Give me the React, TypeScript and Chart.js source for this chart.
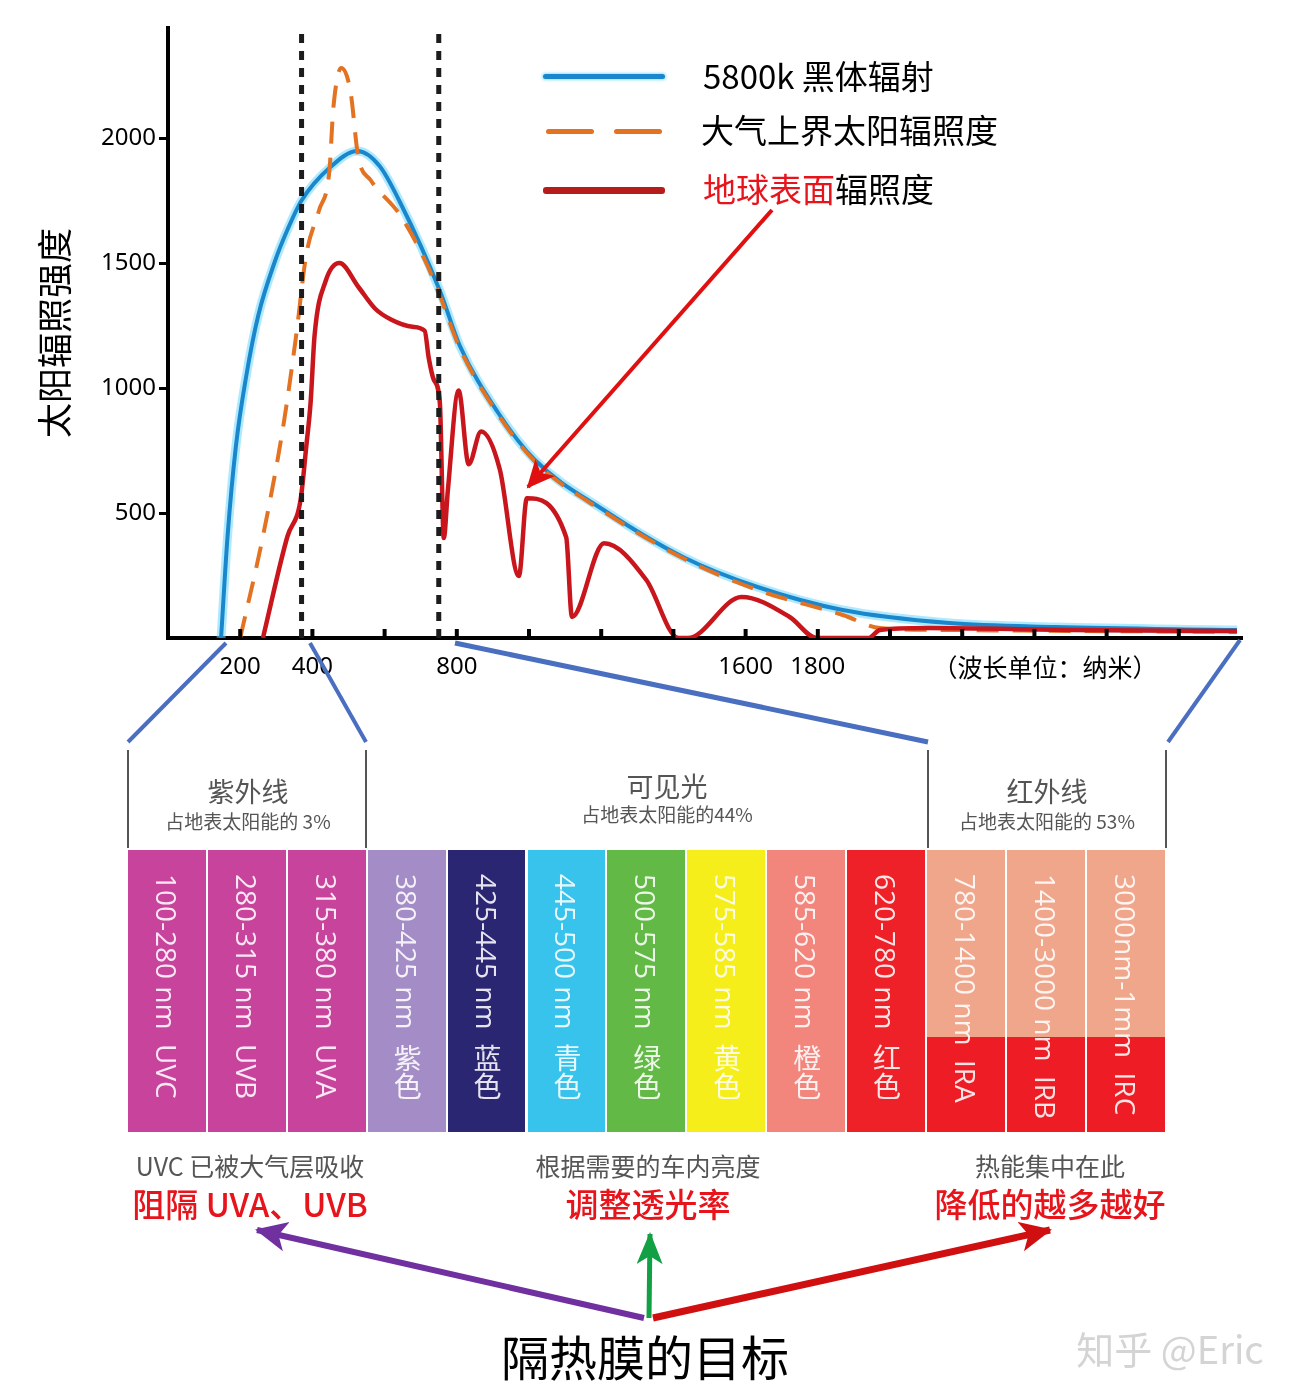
import React, { useEffect, useRef } from 'react';
import { Chart, registerables } from 'chart.js';

Chart.register(...registerables);

// ---------- chart data ----------
const blackbodyWavelengths = [147, 165, 188, 217, 250, 297, 330, 370, 447, 525, 586, 642, 753, 808, 914, 1017, 1208, 1428, 1633, 1869, 2164, 2458, 2961];
const blackbodyValues = [0, 407, 766, 1050, 1290, 1510, 1630, 1750, 1880, 1948, 1888, 1745, 1389, 1170, 902, 711, 511, 323, 204, 112, 60, 44, 32];

const extraterrestrialWavelengths = [200, 263, 320, 355, 383, 418, 447, 458, 480, 505, 527, 561, 643, 711, 753, 808, 914, 1017, 1208, 1428, 1633, 1869, 1972, 2164, 2961];
const extraterrestrialValues = [0, 407, 854, 1210, 1533, 1709, 1868, 2120, 2280, 2190, 1924, 1832, 1692, 1513, 1370, 1160, 895, 705, 505, 318, 192, 92, 40, 32, 24];

const surfaceWavelengths = [263, 331, 367, 383, 395, 406, 436, 475, 527, 574, 619, 677, 711, 722, 736, 753, 764, 775, 805, 833, 867, 919, 972, 994, 1103, 1119, 1208, 1325, 1414, 1440, 1589, 1722, 1797, 1940, 1972, 2100, 2500, 2961];
const surfaceValues = [0, 407, 551, 766, 942, 1210, 1425, 1500, 1405, 1317, 1273, 1245, 1229, 1122, 1034, 942, 400, 587, 990, 695, 826, 675, 248, 559, 403, 84, 379, 232, 0, 0, 164, 84, 0, 0, 32, 40, 32, 28];

const bandMarkers = [370, 750];
const yTickValues = [500, 1000, 1500, 2000];
const xTickValues = [200, 400, 600, 800, 1000, 1200, 1400, 1600, 1800, 2000, 2200, 2400, 2600, 2800];
const xLabelValues = [200, 400, 800, 1600, 1800];
const legendLabels = ['5800k 黑体辐射', '大气上界太阳辐照度', '地球表面辐照度'];
const yAxisTitle = '太阳辐照强度';
const xAxisUnit = '（波长单位：纳米）';

// ---------- spectrum band data ----------
const groupTitles = ['紫外线', '可见光', '红外线'];
const groupShares = ['占地表太阳能的 3%', '占地表太阳能的44%', '占地表太阳能的 53%'];
const bandRanges = ['100-280 nm', '280-315 nm', '315-380 nm', '380-425 nm', '425-445 nm', '445-500 nm', '500-575 nm', '575-585 nm', '585-620 nm', '620-780 nm', '780-1400 nm', '1400-3000 nm', '3000nm-1mm'];
const bandNames = ['UVC', 'UVB', 'UVA', '紫色', '蓝色', '青色', '绿色', '黄色', '橙色', '红色', 'IRA', 'IRB', 'IRC'];
const bandColors = ['#c8449c', '#c8449c', '#c8449c', '#a48cc6', '#2b2672', '#38c3ec', '#62b946', '#f6ee1a', '#f2857c', '#ee2128', 'ir', 'ir', 'ir'];
const goalNotes = ['UVC 已被大气层吸收', '根据需要的车内亮度', '热能集中在此'];
const goalActions = ['阻隔 UVA、UVB', '调整透光率', '降低的越多越好'];
const goalTitle = '隔热膜的目标';
const watermark = '知乎 @Eric';

const CJK = '"Noto Sans CJK SC", "Noto Sans", sans-serif';
const NUM = '"Noto Sans", "Noto Sans CJK SC", sans-serif';

const toPoints = (xs: number[], ys: number[]) => xs.map((x, i) => ({ x, y: ys[i] }));

const innerTicksPlugin = {
  id: 'innerTicks',
  afterDraw(chart: any) {
    const { ctx, scales, chartArea } = chart;
    const x = scales.x;
    ctx.save();
    ctx.strokeStyle = '#000';
    ctx.lineWidth = 4;
    xTickValues.forEach((v) => {
      const px = x.getPixelForValue(v);
      ctx.beginPath();
      ctx.moveTo(px, chartArea.bottom);
      ctx.lineTo(px, chartArea.bottom - 9);
      ctx.stroke();
    });
    ctx.restore();
  },
};

function SpectrumChart() {
  const ref = useRef<HTMLCanvasElement | null>(null);
  useEffect(() => {
    if (!ref.current) return;
    const yMax = 2440;
    const lineBase = {
      pointRadius: 0,
      fill: false,
      tension: 0.4,
      cubicInterpolationMode: 'monotone' as const,
    };
    const chart = new Chart(ref.current, {
      type: 'line',
      data: {
        datasets: [
          ...bandMarkers.map((m) => ({
            label: 'marker' + m,
            data: [{ x: m, y: 0 }, { x: m, y: yMax }],
            borderColor: '#1c1c1c',
            borderWidth: 5,
            borderDash: [9, 8],
            pointRadius: 0,
            order: 0,
          })),
          {
            ...lineBase,
            label: legendLabels[2],
            data: toPoints(surfaceWavelengths, surfaceValues),
            borderColor: '#c8161c',
            borderWidth: 4.5,
            order: 1,
          },
          {
            ...lineBase,
            label: legendLabels[1],
            data: toPoints(extraterrestrialWavelengths, extraterrestrialValues),
            borderColor: '#e37222',
            borderWidth: 4,
            borderDash: [22, 14],
            order: 2,
          },
          {
            ...lineBase,
            label: legendLabels[0],
            data: toPoints(blackbodyWavelengths, blackbodyValues),
            borderColor: '#1a87cc',
            borderWidth: 4,
            order: 3,
          },
          {
            ...lineBase,
            label: 'halo',
            data: toPoints(blackbodyWavelengths, blackbodyValues),
            borderColor: 'rgba(110,215,255,0.55)',
            borderWidth: 9,
            order: 4,
          },
        ],
      },
      options: {
        animation: false,
        responsive: false,
        layout: { padding: { left: 30, top: 28, right: 58, bottom: 0 } },
        plugins: {
          legend: { display: false },
          tooltip: { enabled: false },
        },
        scales: {
          x: {
            type: 'linear',
            min: 0,
            max: 2975,
            afterBuildTicks: (s: any) => {
              s.ticks = xTickValues.map((v) => ({ value: v }));
            },
            afterFit: (s: any) => {
              s.height = 62;
            },
            ticks: {
              autoSkip: false,
              maxRotation: 0,
              padding: 15,
              color: '#000',
              font: { size: 24, family: NUM },
              callback: (v: any) => (xLabelValues.includes(Number(v)) ? String(v) : ''),
            },
            grid: { drawOnChartArea: false, drawTicks: false },
            border: { color: '#000', width: 4 },
          },
          y: {
            type: 'linear',
            min: 0,
            max: yMax,
            afterBuildTicks: (s: any) => {
              s.ticks = yTickValues.map((v) => ({ value: v }));
            },
            afterFit: (s: any) => {
              s.width = 138;
            },
            ticks: {
              padding: 3,
              color: '#000',
              font: { size: 24, family: NUM },
              callback: (v: any) => String(v),
            },
            grid: {
              drawOnChartArea: false,
              drawTicks: true,
              tickLength: 9,
              tickColor: '#000',
              tickWidth: 3,
            },
            border: { color: '#000', width: 4 },
            title: {
              display: true,
              text: yAxisTitle,
              color: '#000',
              font: { size: 35, family: CJK },
              padding: { top: 4, bottom: 0 },
            },
          },
        },
      },
      plugins: [innerTicksPlugin],
    } as any);
    return () => chart.destroy();
  }, []);
  return (
    <canvas
      ref={ref}
      width={1300}
      height={700}
      style={{ position: 'absolute', left: 0, top: 0, width: 1300, height: 700 }}
    />
  );
}

const abs = (o: any) => ({ position: 'absolute' as const, ...o });

export default function App() {
  const colLeft = 128;
  const colW = 79.9;
  const barTop = 850;
  const barH = 282;
  const groupCenters = [248, 667, 1047];
  const groupTitleY = [790, 785, 790];
  const groupShareY = [820, 813, 820];
  const noteCenters = [250, 648, 1050];

  return (
    <div style={abs({ left: 0, top: 0, width: 1300, height: 1399, background: '#fff', overflow: 'hidden', fontFamily: CJK })}>
      <SpectrumChart />

      {/* legend */}
      <div style={abs({ left: 543, top: 74, width: 122, height: 5, background: '#1a87cc', borderRadius: 3, boxShadow: '0 0 3px 1px rgba(110,215,255,0.8)' })} />
      <div style={abs({ left: 546, top: 129, width: 48, height: 5, background: '#e37222', borderRadius: 3 })} />
      <div style={abs({ left: 614, top: 129, width: 48, height: 5, background: '#e37222', borderRadius: 3 })} />
      <div style={abs({ left: 543, top: 187, width: 122, height: 7, background: '#b81b1b', borderRadius: 3 })} />
      <div style={abs({ left: 703, top: 55, fontSize: 33, lineHeight: '40px', color: '#000', whiteSpace: 'nowrap' })}>{legendLabels[0]}</div>
      <div style={abs({ left: 701, top: 109, fontSize: 33, lineHeight: '40px', color: '#000', whiteSpace: 'nowrap' })}>{legendLabels[1]}</div>
      <div style={abs({ left: 703, top: 168, fontSize: 33, lineHeight: '40px', color: '#000', whiteSpace: 'nowrap' })}>
        <span style={{ color: '#e8141c' }}>{legendLabels[2].slice(0, 4)}</span>
        {legendLabels[2].slice(4)}
      </div>

      {/* x unit */}
      <div style={abs({ left: 1045, top: 666, transform: 'translate(-50%,-50%)', fontSize: 25, color: '#000', whiteSpace: 'nowrap' })}>{xAxisUnit}</div>

      {/* annotations */}
      <svg width={1300} height={1399} style={abs({ left: 0, top: 0, pointerEvents: 'none' })}>
        <defs>
          <marker id="hRed" markerUnits="userSpaceOnUse" markerWidth="30" markerHeight="30" refX="26" refY="13" orient="auto">
            <path d="M0,0 L28,13 L0,26 L7,13 Z" fill="#e01010" />
          </marker>
          <marker id="hPurple" markerUnits="userSpaceOnUse" markerWidth="34" markerHeight="34" refX="30" refY="15" orient="auto">
            <path d="M0,0 L32,15 L0,30 L8,15 Z" fill="#7030a0" />
          </marker>
          <marker id="hGreen" markerUnits="userSpaceOnUse" markerWidth="34" markerHeight="34" refX="30" refY="13" orient="auto">
            <path d="M0,0 L32,13 L0,26 L8,13 Z" fill="#12a044" />
          </marker>
          <marker id="hRed2" markerUnits="userSpaceOnUse" markerWidth="34" markerHeight="34" refX="30" refY="15" orient="auto">
            <path d="M0,0 L32,15 L0,30 L8,15 Z" fill="#d01010" />
          </marker>
        </defs>
        {/* chart arrow */}
        <line x1={772} y1={210} x2={528} y2={487} stroke="#e01010" strokeWidth={4} markerEnd="url(#hRed)" />
        {/* connectors */}
        <g stroke="#4a6fc0" strokeWidth={4}>
          <line x1={226} y1={643} x2={128} y2={742} />
          <line x1={310} y1={643} x2={366} y2={742} />
          <line x1={455} y1={643} x2={928} y2={742} strokeWidth={5} />
          <line x1={1240} y1={640} x2={1168} y2={742} />
        </g>
        {/* group separators */}
        <g stroke="#555" strokeWidth={2}>
          {[128, 366, 928, 1166].map((x) => (
            <line key={x} x1={x} y1={750} x2={x} y2={848} />
          ))}
        </g>
        {/* goal arrows */}
        <line x1={644} y1={1318} x2={257} y2={1230} stroke="#7030a0" strokeWidth={6} markerEnd="url(#hPurple)" />
        <line x1={649} y1={1318} x2={650} y2={1234} stroke="#12a044" strokeWidth={5} markerEnd="url(#hGreen)" />
        <line x1={653} y1={1318} x2={1050} y2={1230} stroke="#d01010" strokeWidth={7} markerEnd="url(#hRed2)" />
      </svg>

      {/* group headers */}
      {groupTitles.map((t, i) => (
        <React.Fragment key={t}>
          <div style={abs({ left: groupCenters[i], top: groupTitleY[i], transform: 'translate(-50%,-50%)', fontSize: 27, color: '#555', whiteSpace: 'nowrap' })}>{t}</div>
          <div style={abs({ left: groupCenters[i], top: groupShareY[i], transform: 'translate(-50%,-50%)', fontSize: 19, color: '#555', whiteSpace: 'nowrap' })}>{groupShares[i]}</div>
        </React.Fragment>
      ))}

      {/* bands */}
      {bandRanges.map((r, i) => {
        const bg = bandColors[i] === 'ir' ? 'linear-gradient(to bottom, #f0a68a 0%, #f0a68a 66.3%, #ee1d25 66.3%, #ee1d25 100%)' : bandColors[i];
        return (
          <div
            key={r}
            style={abs({
              left: colLeft + i * colW,
              top: barTop,
              width: colW - 2,
              height: barH,
              background: bg,
            })}
          >
            <div
              style={abs({
                left: '50%',
                top: 24,
                transform: 'translateX(-50%)',
                writingMode: 'vertical-rl',
                fontSize: 28,
                lineHeight: '32px',
                fontFamily: '"Open Sans", "Noto Sans CJK SC", sans-serif',
                color: 'rgba(255,255,255,0.88)',
                whiteSpace: 'pre',
              })}
            >
              {r + '  ' + bandNames[i]}
            </div>
          </div>
        );
      })}

      {/* goal notes */}
      {goalNotes.map((t, i) => (
        <React.Fragment key={t}>
          <div style={abs({ left: noteCenters[i], top: 1165, transform: 'translate(-50%,-50%)', fontSize: 25, color: '#555', whiteSpace: 'nowrap' })}>{t}</div>
          <div style={abs({ left: noteCenters[i], top: 1203, transform: 'translate(-50%,-50%)', fontSize: 33, color: '#e8141c', fontWeight: 500, whiteSpace: 'nowrap' })}>{goalActions[i]}</div>
        </React.Fragment>
      ))}

      <div style={abs({ left: 645, top: 1355, transform: 'translate(-50%,-50%)', fontSize: 48, color: '#000', whiteSpace: 'nowrap' })}>{goalTitle}</div>
      <div style={abs({ left: 1170, top: 1347, transform: 'translate(-50%,-50%)', fontSize: 38, color: '#d4d4d4', whiteSpace: 'nowrap' })}>{watermark}</div>
    </div>
  );
}
